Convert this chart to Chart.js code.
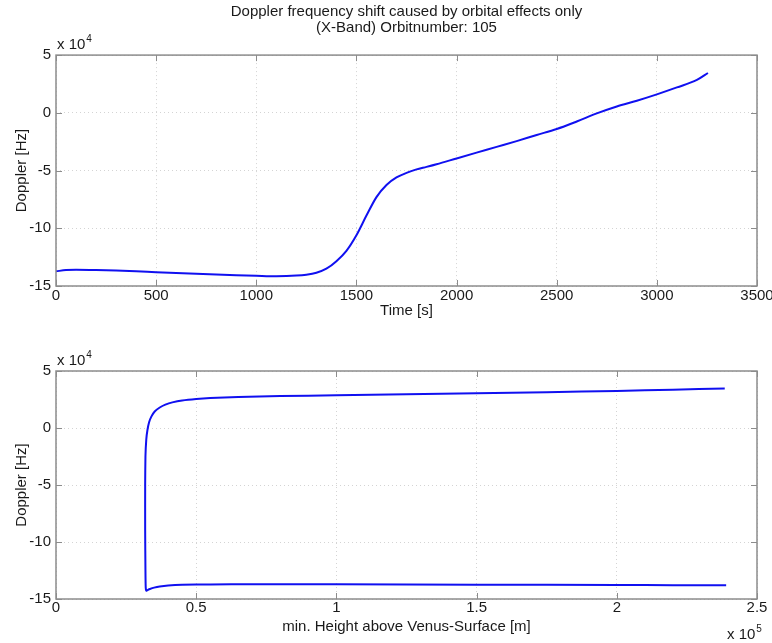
<!DOCTYPE html>
<html lang="en">
<head>
<meta charset="UTF-8">
<title>Doppler frequency shift - Orbit 105</title>
<script src="https://cdn.jsdelivr.net/npm/chart.js@4.4.0/dist/chart.umd.min.js"></script>
<style>
  body { margin: 0; background: #fff; }
  .panel { position: absolute; left: 0; }
</style>
</head>
<body>
<canvas id="timeChart" class="panel" style="top:0" width="772" height="320"></canvas>
<canvas id="heightChart" class="panel" style="top:320px" width="772" height="323"></canvas>
<script>
// time [s] and doppler shift [x 1e4 Hz]
var timeSec = [0, 50, 100, 200, 300, 400, 500, 600, 700, 800, 900, 1000, 1100, 1200, 1250, 1300, 1350, 1400, 1450, 1500,
  1550, 1600, 1650, 1700, 1750, 1800, 1850, 1900, 2000, 2100, 2200, 2300, 2400, 2500, 2600, 2700, 2800, 2900, 3000,
  3100, 3200, 3255];
var dopplerT = [-13.73, -13.62, -13.6, -13.62, -13.66, -13.72, -13.8, -13.87, -13.94, -14.0, -14.06, -14.11, -14.15, -14.1,
  -14.02, -13.85, -13.5, -12.85, -11.95, -10.6, -8.9, -7.3, -6.25, -5.6, -5.2, -4.9, -4.68, -4.45, -3.95, -3.45, -2.95,
  -2.45, -1.92, -1.4, -0.75, -0.05, 0.55, 1.05, 1.6, 2.2, 2.85, 3.45];

// min. height above surface [x 1e5 m] and doppler shift [x 1e4 Hz]
var heightM = [2.39, 2.2, 2.0, 1.5, 1.0, 0.7, 0.55, 0.45, 0.40, 0.37, 0.35, 0.335, 0.326, 0.322,
  0.320, 0.319, 0.318, 0.318, 0.319, 0.322, 0.326, 0.332, 0.340, 0.352, 0.37, 0.39, 0.415, 0.45, 0.5,
  0.55, 0.65, 0.8, 1.0, 1.25, 1.5, 1.75, 2.0, 2.2, 2.385];
var dopplerH = [-13.8, -13.79, -13.77, -13.74, -13.71, -13.7, -13.72, -13.76, -13.82, -13.9, -14.0, -14.12, -14.22, -14.27,
  -14.0, -12.5, -9.0, -5.0, -2.5, -1.0, -0.2, 0.5, 1.0, 1.45, 1.8, 2.05, 2.25, 2.42, 2.55,
  2.63, 2.72, 2.8, 2.87, 2.95, 3.04, 3.14, 3.25, 3.36, 3.47];

var yTicks = [-15, -10, -5, 0, 5];

var FONT = 'Liberation Sans, Arial, Helvetica, sans-serif';
var FS = 15;
var TXT = '#1a1a1a';
var FRAME = '#8c8c8c';

function pts(xs, ys) {
  return xs.map(function (v, i) { return {x: v, y: ys[i]}; });
}

// matlab style box, inward ticks and the "x 10^n" exponent labels
var axesBox = {
  id: 'axesBox',
  afterDatasetsDraw: function (chart, args, opts) {
    var ctx = chart.ctx, a = chart.chartArea;
    var sx = chart.scales.x, sy = chart.scales.y;
    ctx.save();
    ctx.strokeStyle = FRAME;
    ctx.lineWidth = 1.5;
    ctx.strokeRect(a.left, a.top, a.right - a.left, a.bottom - a.top);
    ctx.lineWidth = 1;
    ctx.beginPath();
    sx.ticks.forEach(function (t) {
      var px = Math.round(sx.getPixelForValue(t.value)) + 0.5;
      ctx.moveTo(px, a.bottom); ctx.lineTo(px, a.bottom - 6);
      ctx.moveTo(px, a.top); ctx.lineTo(px, a.top + 6);
    });
    sy.ticks.forEach(function (t) {
      var py = Math.round(sy.getPixelForValue(t.value)) + 0.5;
      ctx.moveTo(a.left, py); ctx.lineTo(a.left + 6, py);
      ctx.moveTo(a.right, py); ctx.lineTo(a.right - 6, py);
    });
    ctx.stroke();

    ctx.fillStyle = TXT;
    ctx.textBaseline = 'alphabetic';
    ctx.textAlign = 'left';
    function expLabel(x, y, n) {
      ctx.font = FS + 'px ' + FONT;
      ctx.fillText('x 10', x, y);
      var w = ctx.measureText('x 10').width;
      ctx.font = '10px ' + FONT;
      ctx.fillText(n, x + w + 1, y - 7);
    }
    if (opts.yExp) expLabel(a.left + 1, a.top - 6, opts.yExp);
    if (opts.xExp) expLabel(a.right - 30, chart.height - 4, opts.xExp);
    ctx.restore();
  }
};

function fixWidth(w) {
  return function (scale) { scale.width = w; };
}
function fixHeight(h) {
  return function (scale) { scale.height = h; scale.paddingLeft = 0; scale.paddingRight = 0; };
}
function plain(v) { return String(v); }

function yScale() {
  return {
    type: 'linear', min: -15, max: 5,
    afterBuildTicks: function (s) { s.ticks = yTicks.map(function (v) { return {value: v}; }); },
    afterFit: fixWidth(56),
    grid: {color: '#d4d4d4', lineWidth: 1, drawTicks: false},
    border: {display: false, dash: [1, 3]},
    ticks: {padding: 5, color: TXT, font: {family: FONT, size: FS}, callback: plain},
    title: {display: true, text: 'Doppler [Hz]', color: TXT, font: {family: FONT, size: FS}, padding: {top: 13, bottom: 0}}
  };
}

function lineSet(data) {
  return {
    data: data, showLine: true, borderColor: '#1010f0', borderWidth: 2,
    pointRadius: 0, fill: false
  };
}

var timeDs = lineSet(pts(timeSec, dopplerT));
timeDs.cubicInterpolationMode = 'monotone';

new Chart(document.getElementById('timeChart'), {
  type: 'scatter',
  data: {datasets: [timeDs]},
  plugins: [axesBox],
  options: {
    responsive: false, animation: false,
    layout: {padding: {left: 0, right: 15, top: 0, bottom: 0}},
    plugins: {
      legend: {display: false}, tooltip: {enabled: false},
      title: {
        display: true, fullSize: false,
        text: ['Doppler frequency shift caused by orbital effects only', '(X-Band) Orbitnumber: 105'],
        color: TXT, font: {family: FONT, size: FS, weight: 'normal', lineHeight: 1.07},
        padding: {top: 4, bottom: 19}
      },
      axesBox: {yExp: '4'}
    },
    scales: {
      x: {
        type: 'linear', min: 0, max: 3500,
        afterFit: fixHeight(34),
        grid: {color: '#d4d4d4', lineWidth: 1, drawTicks: false},
        border: {display: false, dash: [1, 3]},
        ticks: {stepSize: 500, padding: 1, color: TXT, font: {family: FONT, size: FS}, maxRotation: 0, callback: plain},
        title: {display: true, text: 'Time [s]', color: TXT, font: {family: FONT, size: FS}, padding: {top: 0, bottom: 0}}
      },
      y: yScale()
    }
  }
});

var heightDs = lineSet(pts(heightM, dopplerH));
heightDs.tension = 0.2;

new Chart(document.getElementById('heightChart'), {
  type: 'scatter',
  data: {datasets: [heightDs]},
  plugins: [axesBox],
  options: {
    responsive: false, animation: false,
    layout: {padding: {left: 0, right: 15, top: 51, bottom: 0}},
    plugins: {
      legend: {display: false}, tooltip: {enabled: false},
      axesBox: {yExp: '4', xExp: '5'}
    },
    scales: {
      x: {
        type: 'linear', min: 0, max: 2.5,
        afterFit: fixHeight(44),
        grid: {color: '#d4d4d4', lineWidth: 1, drawTicks: false},
        border: {display: false, dash: [1, 3]},
        ticks: {stepSize: 0.5, padding: 0, color: TXT, font: {family: FONT, size: FS}, maxRotation: 0, callback: plain},
        title: {display: true, text: 'min. Height above Venus-Surface [m]', color: TXT, font: {family: FONT, size: FS}, padding: {top: 0, bottom: 7}}
      },
      y: yScale()
    }
  }
});
</script>
</body>
</html>
